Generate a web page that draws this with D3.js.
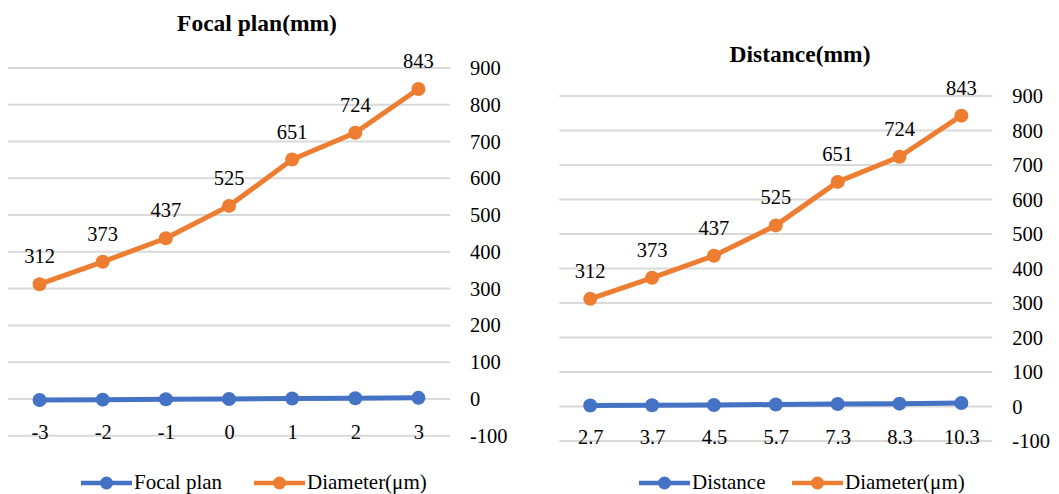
<!DOCTYPE html>
<html>
<head>
<meta charset="utf-8">
<script src="https://cdn.jsdelivr.net/npm/d3@7"></script>
<style>
  html, body { margin: 0; padding: 0; background: #ffffff; }
  svg { display: block; }
</style>
</head>
<body>
<svg id="chart" width="1059" height="494"></svg>
<script>
// Category values along each horizontal axis
const focalPlan = [-3, -2, -1, 0, 1, 2, 3];
const distance = [2.7, 3.7, 4.5, 5.7, 7.3, 8.3, 10.3];
const focalLabels = ["-3", "-2", "-1", "0", "1", "2", "3"];
const distanceLabels = ["2.7", "3.7", "4.5", "5.7", "7.3", "8.3", "10.3"];
// Spot diameter measured at each position (µm)
const diameter = [312, 373, 437, 525, 651, 724, 843];
// Value axis ticks
const yTicks = [-100, 0, 100, 200, 300, 400, 500, 600, 700, 800, 900];

const BLUE = "#4472C4";
const ORANGE = "#ED7D31";
const GRID = "#D9D9D9";
const FONT = "'Liberation Serif', Tinos, 'Times New Roman', serif";

const svg = d3.select("#chart");

function drawPanel(opt) {
  const g = svg.append("g").attr("font-family", FONT);

  const x = d3.scalePoint()
    .domain(opt.labels)
    .range([opt.left, opt.right])
    .padding(0.5);

  const y = d3.scaleLinear()
    .domain([-100, 900])
    .range([opt.bottom, opt.top]);

  // horizontal gridlines
  g.append("g")
    .selectAll("line")
    .data(yTicks)
    .join("line")
    .attr("x1", opt.left)
    .attr("x2", opt.right)
    .attr("y1", d => y(d))
    .attr("y2", d => y(d))
    .attr("stroke", GRID)
    .attr("stroke-width", 2);

  // value axis on the right
  const yAxis = g.append("g")
    .attr("transform", `translate(${opt.right + 12},0)`)
    .call(d3.axisRight(y).tickValues(yTicks).tickFormat(d => String(d)).tickSize(0).tickPadding(8));
  yAxis.attr("font-family", FONT).attr("font-size", 20.5);
  yAxis.select(".domain").remove();
  yAxis.selectAll("text").attr("fill", "#000");

  // category labels
  const xAxis = g.append("g")
    .attr("transform", `translate(0,${y(-100) + 3})`)
    .call(d3.axisBottom(x).tickSize(0).tickPadding(0));
  xAxis.attr("font-family", FONT).attr("font-size", 20.5);
  xAxis.select(".domain").remove();
  xAxis.selectAll("text")
    .attr("y", 0)
    .attr("dy", 0)
    .attr("fill", "#000");

  const line = d3.line()
    .x((d, i) => x(opt.labels[i]))
    .y(d => y(d));

  // position series (blue) and diameter series (orange)
  const series = [
    { values: opt.positions, color: BLUE },
    { values: diameter, color: ORANGE }
  ];
  series.forEach(s => {
    g.append("path")
      .datum(s.values)
      .attr("d", line)
      .attr("fill", "none")
      .attr("stroke", s.color)
      .attr("stroke-width", 5)
      .attr("stroke-linejoin", "round");
    g.append("g")
      .selectAll("circle")
      .data(s.values)
      .join("circle")
      .attr("cx", (d, i) => x(opt.labels[i]))
      .attr("cy", d => y(d))
      .attr("r", 7)
      .attr("fill", s.color);
  });

  // value labels above diameter points
  g.append("g")
    .selectAll("text")
    .data(diameter)
    .join("text")
    .attr("x", (d, i) => x(opt.labels[i]))
    .attr("y", d => y(d) - 21)
    .attr("text-anchor", "middle")
    .attr("font-size", 20.5)
    .text(d => d);

  // title
  g.append("text")
    .attr("x", opt.titleX)
    .attr("y", opt.titleY)
    .attr("text-anchor", "middle")
    .attr("font-size", 23.5)
    .attr("font-weight", "bold")
    .text(opt.title);

  // legend
  const legend = [
    { name: opt.seriesName, color: BLUE, x0: opt.legendX[0] },
    { name: "Diameter(\u03bcm)", color: ORANGE, x0: opt.legendX[1] }
  ];
  legend.forEach(l => {
    const lg = g.append("g").attr("transform", `translate(${l.x0},${opt.legendY})`);
    lg.append("line")
      .attr("x1", 0).attr("x2", 51)
      .attr("y1", 0).attr("y2", 0)
      .attr("stroke", l.color)
      .attr("stroke-width", 4.5);
    lg.append("circle")
      .attr("cx", 25.5).attr("cy", 0).attr("r", 6.5)
      .attr("fill", l.color);
    lg.append("text")
      .attr("x", 53)
      .attr("y", 6)
      .attr("font-size", 21)
      .text(l.name);
  });
}

drawPanel({
  title: "Focal plan(mm)",
  titleX: 257, titleY: 31,
  seriesName: "Focal plan",
  labels: focalLabels,
  positions: focalPlan,
  left: 8, right: 450, top: 68, bottom: 435.7,
  legendX: [81, 254], legendY: 483
});

drawPanel({
  title: "Distance(mm)",
  titleX: 800, titleY: 61.5,
  seriesName: "Distance",
  labels: distanceLabels,
  positions: distance,
  left: 559.3, right: 992.3, top: 96, bottom: 441,
  legendX: [639, 792], legendY: 483
});
</script>
</body>
</html>
